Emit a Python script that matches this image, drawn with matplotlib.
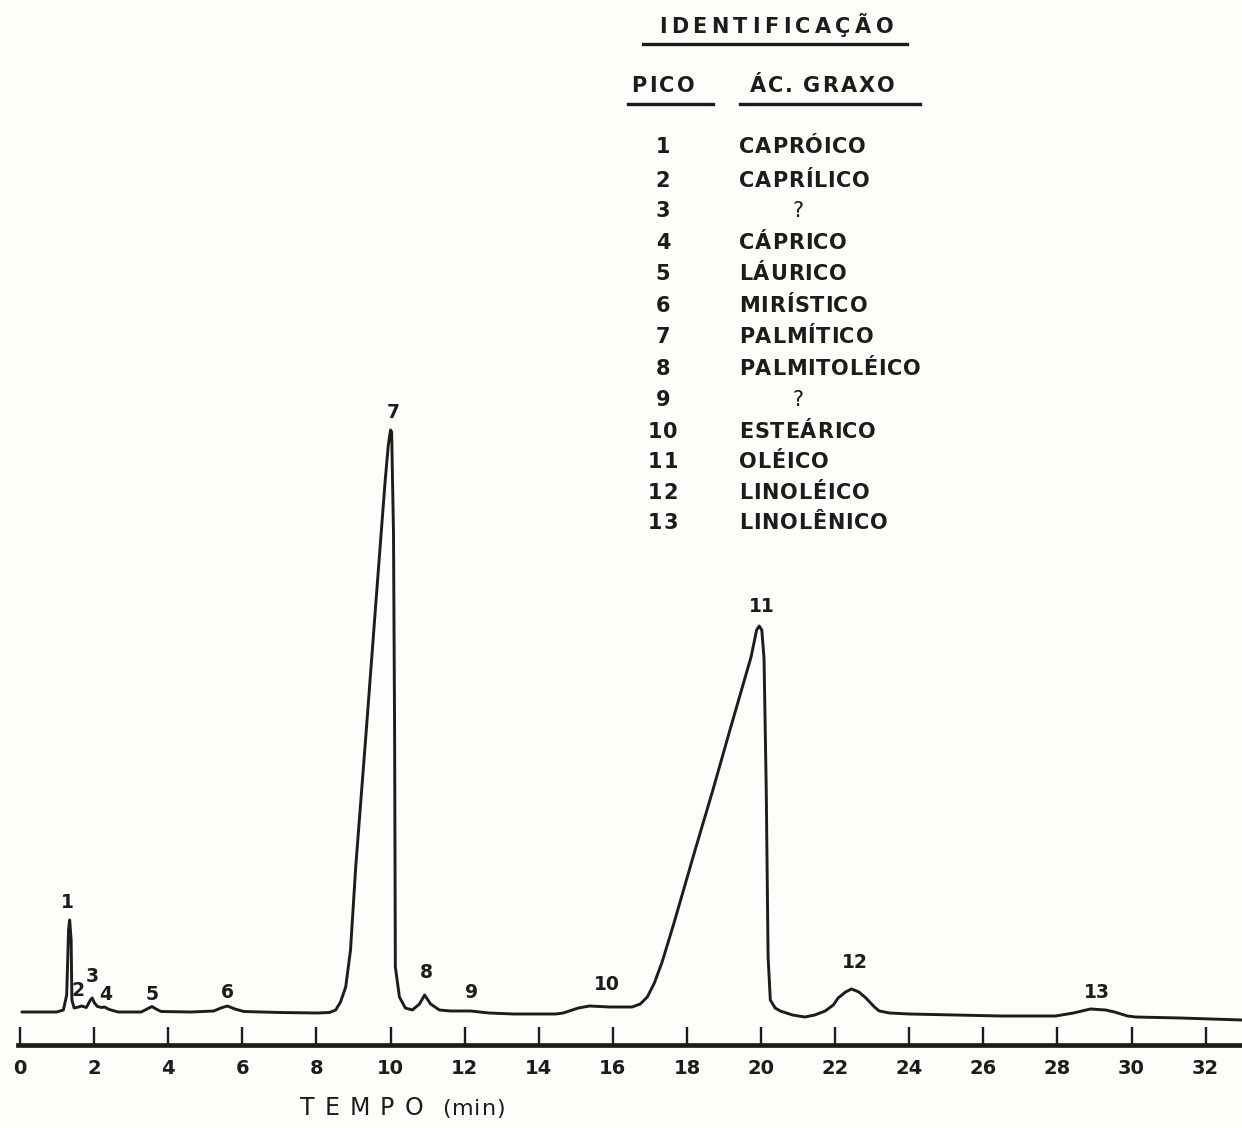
import matplotlib
matplotlib.use("Agg")
import matplotlib.pyplot as plt
from matplotlib.transforms import IdentityTransform
from matplotlib.font_manager import FontProperties
from matplotlib.lines import Line2D

# ---------------- data ----------------
time_min = [0.05, 0.99, 1.17, 1.26, 1.31, 1.34, 1.38, 1.40, 1.46, 1.58, 1.66, 1.79,
            1.90, 1.95, 2.01, 2.09, 2.20, 2.28, 2.41, 2.65, 3.27, 3.43, 3.56, 3.67,
            3.81, 4.62, 5.23, 5.42, 5.60, 5.80, 6.04, 7.03, 8.03, 8.35, 8.52, 8.65,
            8.79, 8.92, 9.06, 9.34, 9.61, 9.85, 9.94, 10.00, 10.03, 10.08, 10.11, 10.13,
            10.24, 10.40, 10.59, 10.78, 10.92, 11.08, 11.32, 11.62, 12.16, 12.66, 13.32,
            14.46, 14.66, 15.07, 15.37, 15.92, 16.11, 16.52, 16.74, 16.93, 17.12, 17.33,
            17.65, 18.22, 18.70, 19.16, 19.73, 19.88, 19.95, 20.02, 20.08, 20.14, 20.19,
            20.25, 20.38, 20.52, 20.85, 21.18, 21.45, 21.73, 21.95, 22.08, 22.28, 22.44,
            22.64, 22.83, 23.06, 23.19, 23.47, 24.00, 26.48, 27.95, 28.43, 28.89, 29.30,
            29.54, 29.89, 30.11, 31.32, 32.98]
signal = [0.10, 0.10, 0.30, 1.80, 8.30, 9.30, 7.30, 1.30, 0.50, 0.60, 0.70, 0.55,
          1.30, 1.50, 1.00, 0.65, 0.55, 0.60, 0.35, 0.10, 0.10, 0.40, 0.65, 0.40,
          0.15, 0.10, 0.20, 0.50, 0.70, 0.40, 0.15, 0.05, 0.00, 0.05, 0.30, 1.10,
          2.60, 6.30, 14.60, 28.00, 41.30, 53.00, 56.80, 58.30, 58.10, 48.00, 28.00, 4.60,
          1.60, 0.50, 0.30, 0.90, 1.80, 0.90, 0.30, 0.20, 0.20, 0.00, -0.10,
          -0.10, 0.00, 0.50, 0.70, 0.60, 0.60, 0.60, 0.90, 1.60, 3.00, 5.10,
          9.00, 16.30, 22.30, 28.30, 35.60, 38.30, 38.70, 38.30, 35.50, 22.30, 5.60,
          1.30, 0.50, 0.20, -0.20, -0.40, -0.20, 0.20, 0.80, 1.50, 2.10, 2.40,
          2.10, 1.50, 0.60, 0.20, 0.00, -0.10, -0.30, -0.30, 0.00, 0.40, 0.30,
          0.10, -0.30, -0.40, -0.50, -0.70]

peak_labels = ["1", "2", "3", "4", "5", "6", "7", "8", "9", "10", "11", "12", "13"]
peak_label_time = [1.27, 1.57, 1.94, 2.32, 3.56, 5.61, 10.07, 10.98, 12.20, 15.84, 20.03, 22.54, 29.07]
peak_label_level = [11.0, 2.3, 3.6, 1.9, 1.9, 2.0, 60.0, 4.0, 2.0, 2.8, 40.6, 5.1, 2.0]

tick_values = list(range(0, 33, 2))
tick_labels = [str(v) for v in tick_values]

table_peaks = ["1", "2", "3", "4", "5", "6", "7", "8", "9", "10", "11", "12", "13"]
table_acids = ["CAPRÓICO", "CAPRÍLICO", "?", "CÁPRICO", "LÁURICO", "MIRÍSTICO",
               "PALMÍTICO", "PALMITOLÉICO", "?", "ESTEÁRICO", "OLÉICO", "LINOLÉICO",
               "LINOLÊNICO"]

title_text = "IDENTIFICAÇÃO"
col1_text = "PICO"
col2_text = "ÁC. GRAXO"
xlabel_text = "TEMPO"
xunit_text = "(min)"

# ---------------- styling ----------------
W, H = 1242, 1128
BG = "#fefdf9"
INK = "#1c1c1c"
FAM = "DejaVu Sans"

fig = plt.figure(figsize=(W / 100, H / 100), dpi=100)
fig.patch.set_facecolor(BG)
ax = fig.add_axes([0, 0, 1, 1])
ax.set_facecolor(BG)

ax.plot(time_min, signal, color=INK, lw=2.1, solid_joinstyle="round", solid_capstyle="round")

ax.set_xlim(-0.54, 32.98)
ax.set_ylim(-11.5, 101.3)
for s in ["top", "left", "right"]:
    ax.spines[s].set_visible(False)
sp = ax.spines["bottom"]
sp.set_position(("data", -3.2))
sp.set_linewidth(3.4)
sp.set_color(INK)
sp.set_bounds(-0.06, 32.98)
ax.set_yticks([])
ax.set_xticks(tick_values)
ax.set_xticklabels(tick_labels, family=FAM, fontsize=14, fontweight="bold", color=INK)
ax.tick_params(axis="x", direction="in", length=13, width=1.7, pad=10, color=INK)

for lab, t, lv in zip(peak_labels, peak_label_time, peak_label_level):
    ax.text(t, lv, lab, ha="center", va="center", fontsize=13.5, family=FAM,
            fontweight="bold", color=INK)

renderer = fig.canvas.get_renderer()


def spaced(x, y_base, s, size, track, ha="left", weight="bold"):
    """Letter-spaced text; x, y_base in image pixels (y from top, baseline)."""
    prop = FontProperties(family=FAM, size=size, weight=weight)
    widths = []
    for c in s:
        if c == " ":
            widths.append(size * 0.32 * 100 / 72)
        else:
            widths.append(renderer.get_text_width_height_descent(c, prop, ismath=False)[0])
    total = sum(widths) + track * (len(s) - 1)
    if ha == "center":
        x0 = x - total / 2
    elif ha == "right":
        x0 = x - total
    else:
        x0 = x
    for c, w in zip(s, widths):
        if c != " ":
            fig.text(x0, H - y_base, c, fontproperties=prop, color=INK,
                     transform=IdentityTransform(), ha="left", va="baseline")
        x0 += w + track


def hline(x1, x2, y, lw=2.4):
    fig.add_artist(Line2D([x1, x2], [H - y, H - y], color=INK, lw=lw,
                          transform=IdentityTransform()))


TS = 15
cap = TS * 100 / 72 * 0.73
spaced(776, 25 + cap / 2, title_text, TS, 4.5, ha="center")
hline(643, 907, 44)
spaced(663, 84 + cap / 2, col1_text, TS, 2.5, ha="center")
spaced(822, 84 + cap / 2, col2_text, TS, 2.0, ha="center")
hline(628, 713, 104)
hline(740, 920, 104)

row_y = [145, 179, 209.5, 241.8, 272.3, 304.6, 335.1, 367.4, 397.9, 430.2, 460.7, 491.2, 521.7]
for pk, acid, y in zip(table_peaks, table_acids, row_y):
    spaced(663, y + cap / 2, pk, TS, 1.0, ha="center")
    if acid == "?":
        spaced(798, y + cap / 2, acid, TS, 0, ha="center", weight="normal")
    else:
        spaced(739, y + cap / 2, acid, TS, 0.8, ha="left")

XS = 17
xcap = XS * 100 / 72 * 0.73
spaced(300, 1106 + xcap / 2, xlabel_text, XS, 10.0, ha="left", weight="normal")
spaced(442, 1106 + xcap / 2, xunit_text, 16, 1.0, ha="left", weight="normal")

fig.savefig("out.png", dpi=100, facecolor=BG)
